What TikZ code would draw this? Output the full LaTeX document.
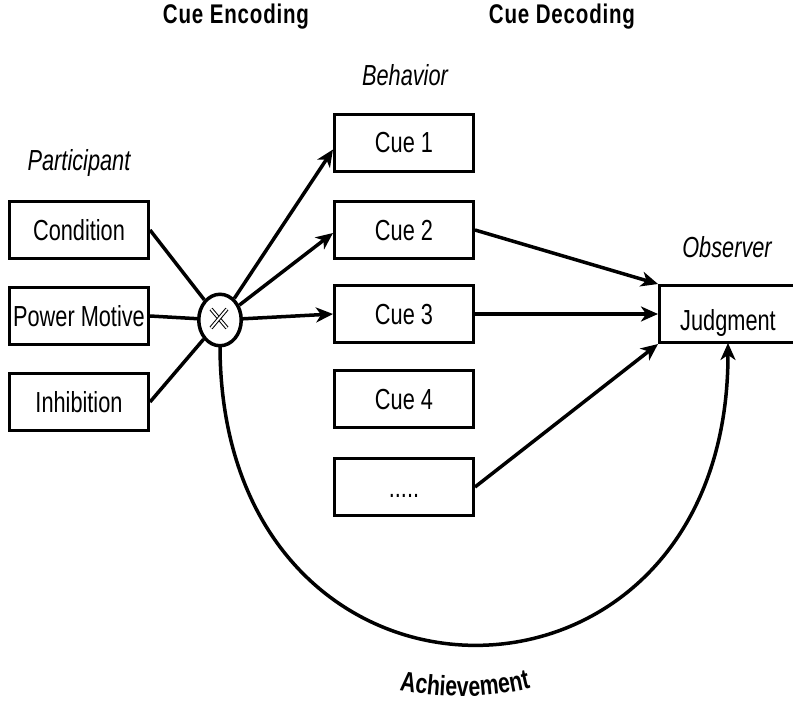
\documentclass[tikz,border=0pt]{standalone}
\usepackage{fontspec}
\newfontfamily\arialn{Liberation Sans}[FakeStretch=0.75]
\newfontfamily\hdrfont{Liberation Sans}[FakeStretch=0.76,LetterSpace=3]
\newfontfamily\achfont{Liberation Sans}[FakeStretch=0.76]
\usetikzlibrary{arrows.meta,shapes.geometric,decorations.text}
\begin{document}
\begin{tikzpicture}[x=1pt,y=-1pt,
  every node/.style={font=\arialn\fontsize{29}{32}\selectfont},
  box/.style={draw,line width=3pt,minimum width=139pt,minimum height=57pt,inner sep=0pt,text height=20pt,text depth=0pt},
  lbl/.style={font=\arialn\itshape\fontsize{29}{32}\selectfont,anchor=base},
  hdr/.style={font=\hdrfont\bfseries\fontsize{27}{30}\selectfont,anchor=base},
  conn/.style={line width=3.5pt},
  arr/.style={line width=3.5pt,-{Stealth[length=17pt,width=15pt,inset=5pt]}}]
\useasboundingbox (0,0) rectangle (793,701);
% headers
\node[hdr] (henc) at (236,24) {Cue Encoding};
\node[hdr] (hdec) at (562,24) {Cue Decoding};
\node[lbl] (lpart) at (79,170) {Participant};
\node[lbl] (lbeh) at (405,85) {Behavior};
\node[lbl] (lobs) at (727,257) {Observer};
% left boxes
\node[box] (cond) at (79,230) {Condition};
\node[box] (pm) at (79,316) {Power Motive};
\node[box] (inh) at (79,402) {Inhibition};
% cue boxes
\node[box] (cue1) at (404,142.5) {Cue 1};
\node[box] (cue2) at (404,230) {Cue 2};
\node[box] (cue3) at (404,314) {Cue 3};
\node[box] (cue4) at (404,399) {Cue 4};
\node[box] (cue5) at (404,487) {.....};
% judgment
\node[box,minimum width=137pt,text height=32pt] (jud) at (728,314) {Judgment};
\coordinate (achend) at (728,343);
% achievement arc
\draw[arr] (220,345) .. controls +(0,400) and +(0,400) .. (achend);
% interaction ellipse
\node[draw,ellipse,fill=white,line width=3.5pt,minimum width=42.5pt,minimum height=51.5pt,inner sep=0pt] (x) at (220,320) {};
\draw[line width=1pt,double,double distance=1.8pt] ([shift={(-9,-11)}]x.center) -- ([shift={(7,8)}]x.center);
\draw[line width=1pt,double,double distance=1.8pt] ([shift={(7,-11)}]x.center) -- ([shift={(-9,8)}]x.center);
% participant to interaction
\draw[conn] (cond.east) -- (x);
\draw[conn] (pm.east) -- (x);
\draw[conn] (inh.east) -- (x);
% encoding
\draw[arr] (x) -- ([yshift=-7pt]cue1.west);
\draw[arr] (x) -- ([yshift=-3pt]cue2.west);
\draw[arr] (x) -- (cue3.west);
% decoding
\draw[arr] (cue2.east) -- (jud.north west);
\draw[arr] (cue3.east) -- (jud.west);
\draw[arr] (cue5.east) -- (jud.south west);
% achievement label
\path[decorate,decoration={text along path,text align=center,text={|\achfont\bfseries\fontsize{28}{30}\selectfont|Achievement}}]
  (388,688) .. controls (440,699) and (490,700) .. (542,685);
\end{tikzpicture}
\end{document}
